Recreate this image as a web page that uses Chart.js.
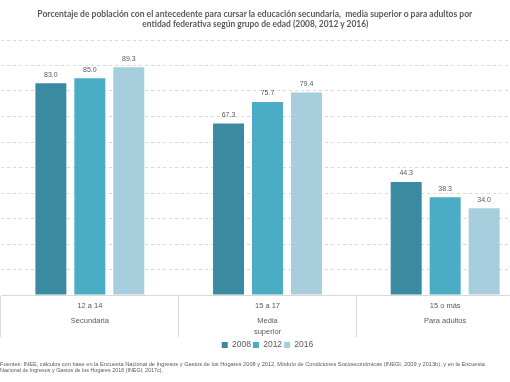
<!DOCTYPE html>
<html>
<head>
<meta charset="utf-8">
<script src="https://cdn.jsdelivr.net/npm/chart.js@4.4.0/dist/chart.umd.min.js"></script>
<style>
  html, body { margin: 0; padding: 0; background: #ffffff; width: 510px; height: 382px; overflow: hidden; }
  #wrap { position: absolute; left: 0; top: 0; width: 535px; height: 382px; }
  .txt { position: absolute; white-space: nowrap; color: #595959; font-family: "Lato", "Liberation Sans", sans-serif; }
  .title { font-weight: bold; font-size: 9.5px; line-height: 10px; transform-origin: center center; }
  .foot { font-size: 5.5px; line-height: 6px; left: 0; transform-origin: left center; font-family: "Liberation Sans", sans-serif; }
</style>
</head>
<body>
<div id="wrap"><canvas id="c"></canvas></div>
<div class="txt title" id="t1" style="top:9px">Porcentaje de población con el antecedente para cursar la educación secundaria,&nbsp; media superior o para adultos por</div>
<div class="txt title" id="t2" style="top:19px">entidad federativa según grupo de edad (2008, 2012 y 2016)</div>
<div class="txt foot" id="f1" style="top:361px">Fuentes: INEE, cálculos con base en la Encuesta Nacional de Ingresos y Gastos de los Hogares 2008 y 2012, Módulo de Condiciones Socioeconómicas (INEGI, 2009 y 2013b), y en la Encuesta</div>
<div class="txt foot" id="f2" style="top:367px">Nacional de Ingresos y Gastos de los Hogares 2016 (INEGI, 2017c).</div>
<script>
// ---- data ----
const categories = ["12 a 14", "15 a 17", "15 o más"];
const levels = [["Secundaria"], ["Media", "superior"], ["Para adultos"]];
const years = ["2008", "2012", "2016"];
const values2008 = [83.0, 67.3, 44.3];
const values2012 = [85.0, 75.7, 38.3];
const values2016 = [89.3, 79.4, 34.0];
const yMin = 0, yMax = 100, yStep = 10;

const colors = ["#3a8aa2", "#4bacc6", "#a6cedd"];
const series = [values2008, values2012, values2016];

// fit HTML text lines to measured widths of reference
function fit(id, target, center) {
  const el = document.getElementById(id);
  const w = el.getBoundingClientRect().width;
  const s = target / w;
  if (center !== undefined) {
    el.style.left = (center - w / 2) + "px";
  }
  el.style.transform = "scaleX(" + s + ")";
}
fit("t1", 435, 255);
fit("t2", 226, 255);
fit("f1", 485);
fit("f2", 163);

// x labels: age group, then education level below
const xLabels = categories.map((c, i) => {
  const arr = [c, "", ""];
  levels[i].forEach((l, j) => { if (j > 0) arr.push(""); arr.push(l); });
  return arr;
});

const valueLabels = {
  id: "valueLabels",
  afterDatasetsDraw(chart) {
    const ctx = chart.ctx;
    ctx.save();
    ctx.font = "7px 'Liberation Sans', sans-serif";
    ctx.fillStyle = "#595959";
    ctx.textAlign = "center";
    ctx.textBaseline = "middle";
    chart.data.datasets.forEach((ds, di) => {
      chart.getDatasetMeta(di).data.forEach((bar, i) => {
        ctx.fillText(ds.data[i].toFixed(1), bar.x, bar.y - 8.5);
      });
    });
    ctx.restore();
  }
};

new Chart(document.getElementById("c"), {
  type: "bar",
  data: {
    labels: xLabels,
    datasets: years.map((y, i) => ({
      label: y,
      data: series[i],
      backgroundColor: colors[i],
      borderWidth: 0,
      categoryPercentage: 0.658,
      barPercentage: 0.795
    }))
  },
  options: {
    responsive: true,
    maintainAspectRatio: false,
    animation: false,
    devicePixelRatio: 1,
    layout: { padding: { top: 40, left: 1, right: 1, bottom: 22.75 } },
    plugins: {
      legend: {
        position: "bottom",
        labels: {
          boxWidth: 6, boxHeight: 6, padding: 2,
          color: "#595959",
          font: { family: "'Liberation Sans', sans-serif", size: 8.5 }
        }
      },
      title: { display: false },
      tooltip: { enabled: false }
    },
    scales: {
      x: {
        offset: true,
        grid: { display: true, drawOnChartArea: false, drawTicks: true, tickLength: 42, offset: true, color: "#d9d9d9", lineWidth: 1 },
        border: { display: true, color: "#d9d9d9", width: 1 },
        ticks: {
          autoSkip: false, maxRotation: 0, minRotation: 0,
          padding: -34.1,
          color: "#595959",
          font: { family: "'Liberation Sans', sans-serif", size: 7.5, lineHeight: "5.2px" }
        },
        title: { display: true, text: "", font: { size: 1, lineHeight: "1px" }, padding: { top: 37.75, bottom: 0 } }
      },
      y: {
        min: yMin, max: yMax,
        ticks: { display: false, stepSize: yStep },
        grid: { color: "#d9d9d9", lineWidth: 1, drawTicks: false },
        border: { display: false, dash: [3, 3] }
      }
    }
  },
  plugins: [valueLabels]
});
</script>
</body>
</html>
